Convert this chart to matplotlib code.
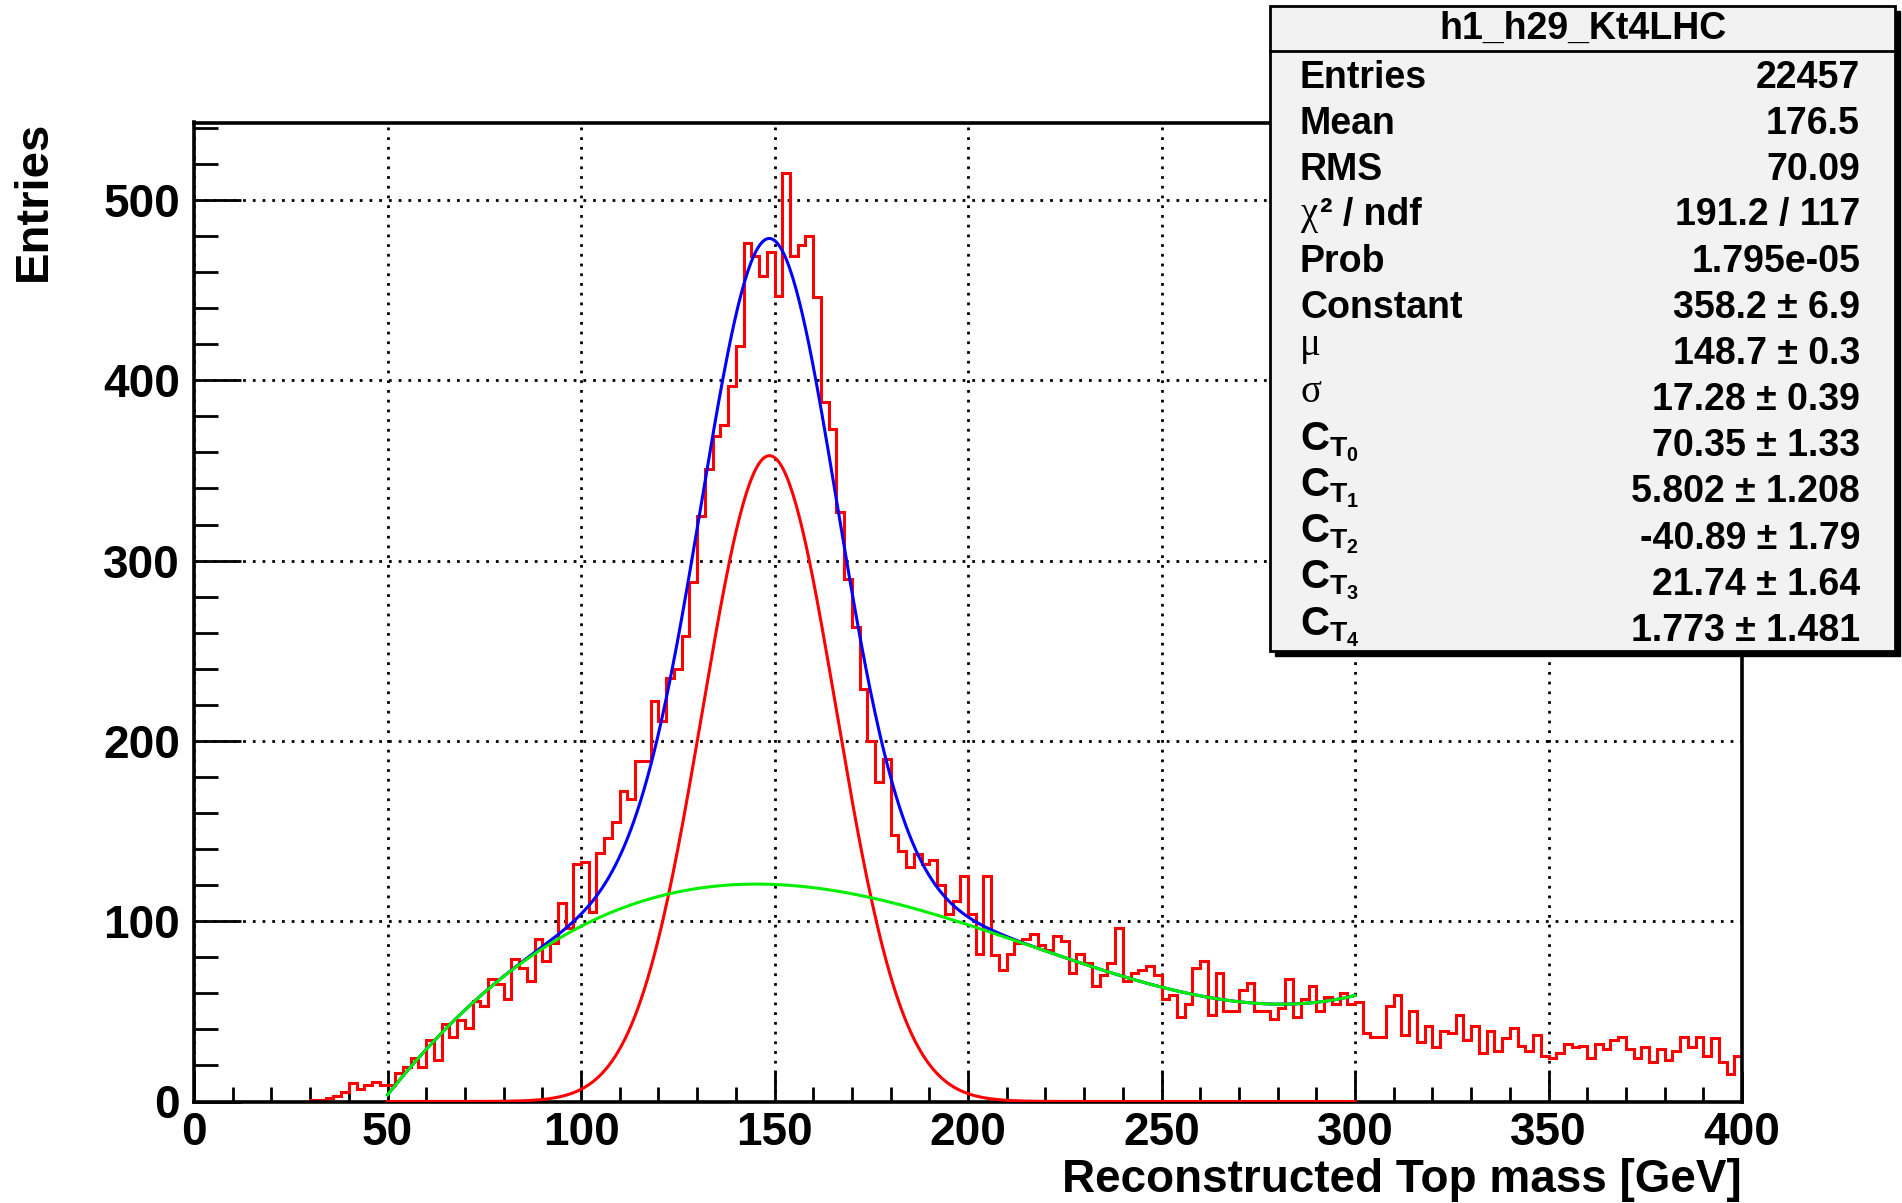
import numpy as np
import matplotlib
matplotlib.use("Agg")
import matplotlib.pyplot as plt
from matplotlib.ticker import MultipleLocator
from matplotlib.patches import Rectangle

plt.rcParams['font.family'] = ['Liberation Sans', 'DejaVu Sans']
plt.rcParams['font.weight'] = 'bold'
plt.rcParams['mathtext.fontset'] = 'custom'
plt.rcParams['mathtext.rm'] = 'Liberation Sans:bold'
plt.rcParams['mathtext.bf'] = 'Liberation Sans:bold'
plt.rcParams['mathtext.it'] = 'Liberation Sans:bold'

# histogram: 200 bins of 2 GeV from 0 to 400
bin_edges = np.arange(0, 402, 2)
counts = ([0] * 15 +
          [1, 1, 2, 3, 5, 10, 7, 9, 11, 9] +
          [9, 16, 19, 24, 19, 34, 23, 43, 36, 45, 41, 56, 53, 68, 65, 57, 79, 74, 67, 90, 78, 88, 110, 96, 132] +
          [133, 105, 138, 146, 155, 172, 168, 189, 189, 222, 211, 235, 240, 258, 288, 325, 351, 369, 375, 397, 419, 476, 469, 458, 471] +
          [447, 515, 469, 475, 480, 446, 388, 373, 327, 290, 263, 229, 200, 177, 190, 148, 139, 130, 137, 132, 134, 120, 104, 111, 125] +
          [104, 82, 125, 81, 73, 82, 88, 90, 93, 87, 84, 92, 89, 71, 82, 77, 64, 70, 77, 96, 67, 71, 73, 75, 70] +
          [57, 59, 47, 54, 74, 78, 48, 71, 50, 50, 62, 66, 50, 50, 46, 52, 68, 47, 57, 64, 50, 58, 54, 60, 54] +
          [55, 38, 36, 36, 53, 59, 37, 50, 33, 42, 30, 39, 38, 48, 34, 42, 27, 39, 28, 35, 41, 31, 28, 37, 25] +
          [24, 27, 32, 30, 31, 24, 32, 29, 34, 36, 29, 24, 30, 22, 29, 23, 28, 36, 30, 36, 25, 35, 22, 15, 25])

# fit results (gaus + 4th order chebyshev) as printed in the stats box
fit_min, fit_max = 50, 300
g_const, g_mu, g_sigma = 358.2, 148.7, 17.28
cheb_coef = [70.35, 5.802, -40.89, 21.74, 1.773]

stat_labels = ["Entries", "Mean", "RMS", "χ² / ndf", "Prob", "Constant", "μ", "σ",
               r"$\mathbf{C}_{\mathbf{T}_{\mathbf{0}}}$", r"$\mathbf{C}_{\mathbf{T}_{\mathbf{1}}}$",
               r"$\mathbf{C}_{\mathbf{T}_{\mathbf{2}}}$", r"$\mathbf{C}_{\mathbf{T}_{\mathbf{3}}}$",
               r"$\mathbf{C}_{\mathbf{T}_{\mathbf{4}}}$"]
stat_values = ["22457", "176.5", "70.09", "191.2 / 117", "1.795e-05", "358.2 ± 6.9",
               "148.7 ± 0.3", "17.28 ± 0.39", "70.35 ± 1.33", "5.802 ± 1.208",
               "-40.89 ± 1.79", "21.74 ± 1.64", "1.773 ± 1.481"]

W, H = 1902, 1203
fig = plt.figure(figsize=(W / 100, H / 100), dpi=100)
ax = fig.add_axes([194 / W, 101.5 / H, (1742 - 194) / W, (1101.5 - 122.5) / H])

ax.stairs(counts, bin_edges, color='red', lw=2.2, zorder=2)

xf = np.linspace(fit_min, fit_max, 600)
u = (2 * xf - fit_min - fit_max) / (fit_max - fit_min)
gaus = g_const * np.exp(-0.5 * ((xf - g_mu) / g_sigma) ** 2)
bkg = np.polynomial.chebyshev.chebval(u, cheb_coef)
ax.plot(xf, gaus, color='red', lw=2.2, zorder=3)
ax.plot(xf, gaus + bkg, color='blue', lw=2.2, zorder=3)
ax.plot(xf, bkg, color='#00ee00', lw=2.2, zorder=3)

ax.set_xlim(0, 400)
ax.set_ylim(0, 543)
ax.xaxis.set_major_locator(MultipleLocator(50))
ax.xaxis.set_minor_locator(MultipleLocator(10))
ax.yaxis.set_major_locator(MultipleLocator(100))
ax.yaxis.set_minor_locator(MultipleLocator(20))
ax.tick_params(axis='x', which='major', direction='in', length=22, width=2, pad=7, labelsize=33)
ax.tick_params(axis='x', which='minor', direction='in', length=11, width=2)
ax.tick_params(axis='y', which='major', direction='in', length=34, width=2, pad=10, labelsize=33)
ax.tick_params(axis='y', which='minor', direction='in', length=17, width=2)
for lab in ax.get_xticklabels() + ax.get_yticklabels():
    lab.set_fontweight('bold')
for sp in ax.spines.values():
    sp.set_linewidth(2.6)
ax.set_axisbelow(True)
ax.grid(True, which='major', color='black', linestyle=(0, (1, 2.5)), lw=2.0)

ax.set_xlabel("Reconstructed Top mass [GeV]", fontsize=33, fontweight='bold', loc='right', labelpad=2)
fig.text(34 / W, 1 - 121 / H, "Entries", rotation=90, ha='center', va='top', fontsize=34, fontweight='bold')

# stats box
bx0, bx1, by0, by1 = 1270, 1895, 6, 651
fs = 27
fig.patches.append(Rectangle(((bx0 + 5) / W, 1 - (by1 + 5) / H), (bx1 - bx0) / W, (by1 - by0) / H,
                             transform=fig.transFigure, facecolor='black', edgecolor='black', zorder=10))
fig.patches.append(Rectangle((bx0 / W, 1 - by1 / H), (bx1 - bx0) / W, (by1 - by0) / H,
                             transform=fig.transFigure, facecolor='#f2f2f2', edgecolor='black', lw=2, zorder=11))
fig.lines.append(plt.Line2D([bx0 / W, bx1 / W], [1 - 51 / H, 1 - 51 / H], transform=fig.transFigure,
                            color='black', lw=2, zorder=12))
fig.text((bx0 + bx1) / 2 / W, 1 - 29 / H, "h1_h29_Kt4LHC", ha='center', va='center',
         fontsize=fs, fontweight='bold', zorder=13)
row_y = [77.6, 123.7, 169.8, 214.7, 262, 308, 354, 400, 446.4, 492.5, 538.6, 584.6, 631]
for lab, val, yy in zip(stat_labels, stat_values, row_y):
    if lab in ("μ", "σ"):
        fig.text(1300 / W, 1 - (yy - 8) / H, lab, ha='left', va='center', fontsize=fs + 1,
                 family='Liberation Serif', fontweight='normal', zorder=13)
    elif lab.startswith("χ"):
        fig.text(1300 / W, 1 - yy / H, "χ", ha='left', va='center', fontsize=fs + 1,
                 family='Liberation Serif', fontweight='normal', zorder=13)
        fig.text(1320 / W, 1 - yy / H, "² / ndf", ha='left', va='center', fontsize=fs,
                 fontweight='bold', zorder=13)
    elif lab.startswith("$"):
        fig.text(1300 / W, 1 - (yy - 4) / H, lab, ha='left', va='center', fontsize=fs + 2,
                 zorder=13)
    else:
        fig.text(1300 / W, 1 - yy / H, lab, ha='left', va='center', fontsize=fs,
                 fontweight='bold', zorder=13)
    fig.text(1860 / W, 1 - yy / H, val, ha='right', va='center', fontsize=fs,
             fontweight='bold', zorder=13)

fig.savefig("out.png", dpi=100)
